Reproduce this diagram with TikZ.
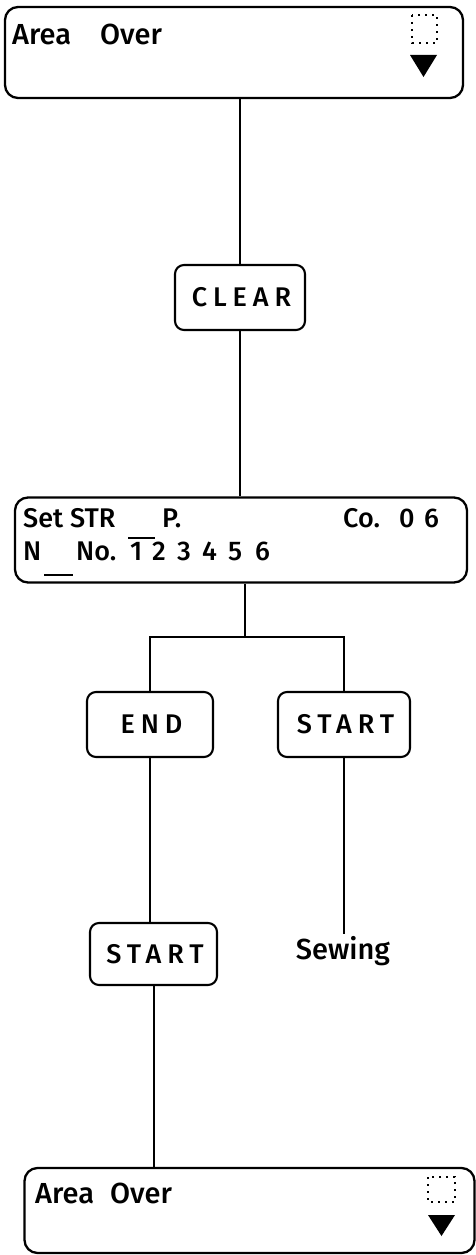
\documentclass[tikz,border=0pt]{standalone}
\usepackage{fontspec}
\setmainfont{Fira Sans}[UprightFont={* Medium},BoldFont={* SemiBold}]
\newcommand\lcdfont{\fontsize{29}{33}\selectfont}
\newcommand\setfont{\fontsize{27}{31}\selectfont}
\newcommand\btnfont{\fontsize{27}{31}\selectfont\addfontfeature{LetterSpace=22}}
\begin{document}
\begin{tikzpicture}[x=1pt,y=-1pt,
  panel/.style={draw, line width=2.3pt, rounded corners=13pt, inner sep=0pt},
  keybox/.style={draw, line width=2.1pt, rounded corners=9pt, inner sep=0pt, font=\btnfont},
  conn/.style={line width=2pt},
  lcd/.style={anchor=base west, inner sep=0pt, font=\lcdfont},
  lcdset/.style={anchor=base west, inner sep=0pt, font=\setfont},
  dotsq/.style={line width=2.4pt, dash pattern=on 2.4pt off 4.6pt},
  bar/.style={line width=2pt}]
\useasboundingbox (0,0) rectangle (476,1255);

% top panel
\node[panel, minimum width=458pt, minimum height=91pt] (top) at (234,52.5) {};
\node[lcd] (ta) at (12,45) {Area};
\node[lcd] (to) at (100,45) {Over};
\draw[dotsq] (412,15) rectangle (437,43);
\fill (410,55) -- (437,55) -- (423.5,77) -- cycle;

% CLEAR
\node[keybox, minimum width=130pt, minimum height=65pt] (clear) at (240,297.5) {\hspace*{3pt}CLEAR};

% Set panel
\node[panel, minimum width=452pt, minimum height=85pt] (set) at (241,540) {};
\node[lcdset] (s1) at (23,527) {Set STR};
\node[lcdset] (s2) at (162,527) {P.};
\node[lcdset] (s3) at (343,527) {Co.};
\node[lcdset] (s4) at (399,527) {0};
\node[lcdset] (s5) at (424,527) {6};
\node[lcdset] (n1) at (23,560) {N};
\node[lcdset] (n2) at (76,560) {No.};
\foreach \d/\xx in {1/130,2/152,3/177,4/202,5/228,6/255}
  \node[lcdset] (d\d) at (\xx,560) {\d};
\draw[bar] (128,538) -- (155,538);
\draw[bar] (44,575) -- (73,575);

% END / START
\node[keybox, minimum width=126pt, minimum height=65pt] (end) at (150,724.5) {\hspace*{3pt}END};
\node[keybox, minimum width=132pt, minimum height=65pt] (start1) at (344,724.5) {\hspace*{3pt}START};
\coordinate (fork) at (245,637);

% START 2 and Sewing
\node[keybox, minimum width=127pt, minimum height=62pt] (start2) at (153.5,954) {\hspace*{3pt}START};
\node[anchor=north, inner sep=2pt, font=\lcdfont] (sew) at (343,934) {Sewing};

% bottom panel
\node[panel, minimum width=450pt, minimum height=85pt] (bot) at (249.5,1210.5) {};
\node[lcd] (ba) at (35,1203) {Area};
\node[lcd] (bo) at (110,1203) {Over};
\draw[dotsq] (428,1177) rectangle (455,1202);
\fill (428,1215) -- (455,1215) -- (441.5,1236) -- cycle;

% connectors
\draw[conn] (clear.north) -- (clear.north |- top.south);
\draw[conn] (clear.south) -- (clear.south |- set.north);
\draw[conn] (fork |- set.south) -- (fork);
\draw[conn] (end.north) -- (end.north |- fork) -- (start1.north |- fork) -- (start1.north);
\draw[conn] (end.south) -- (end.south |- start2.north);
\draw[conn] (start1.south) -- (start1.south |- sew.north);
\draw[conn] (start2.south) -- (start2.south |- bot.north);
\end{tikzpicture}
\end{document}
